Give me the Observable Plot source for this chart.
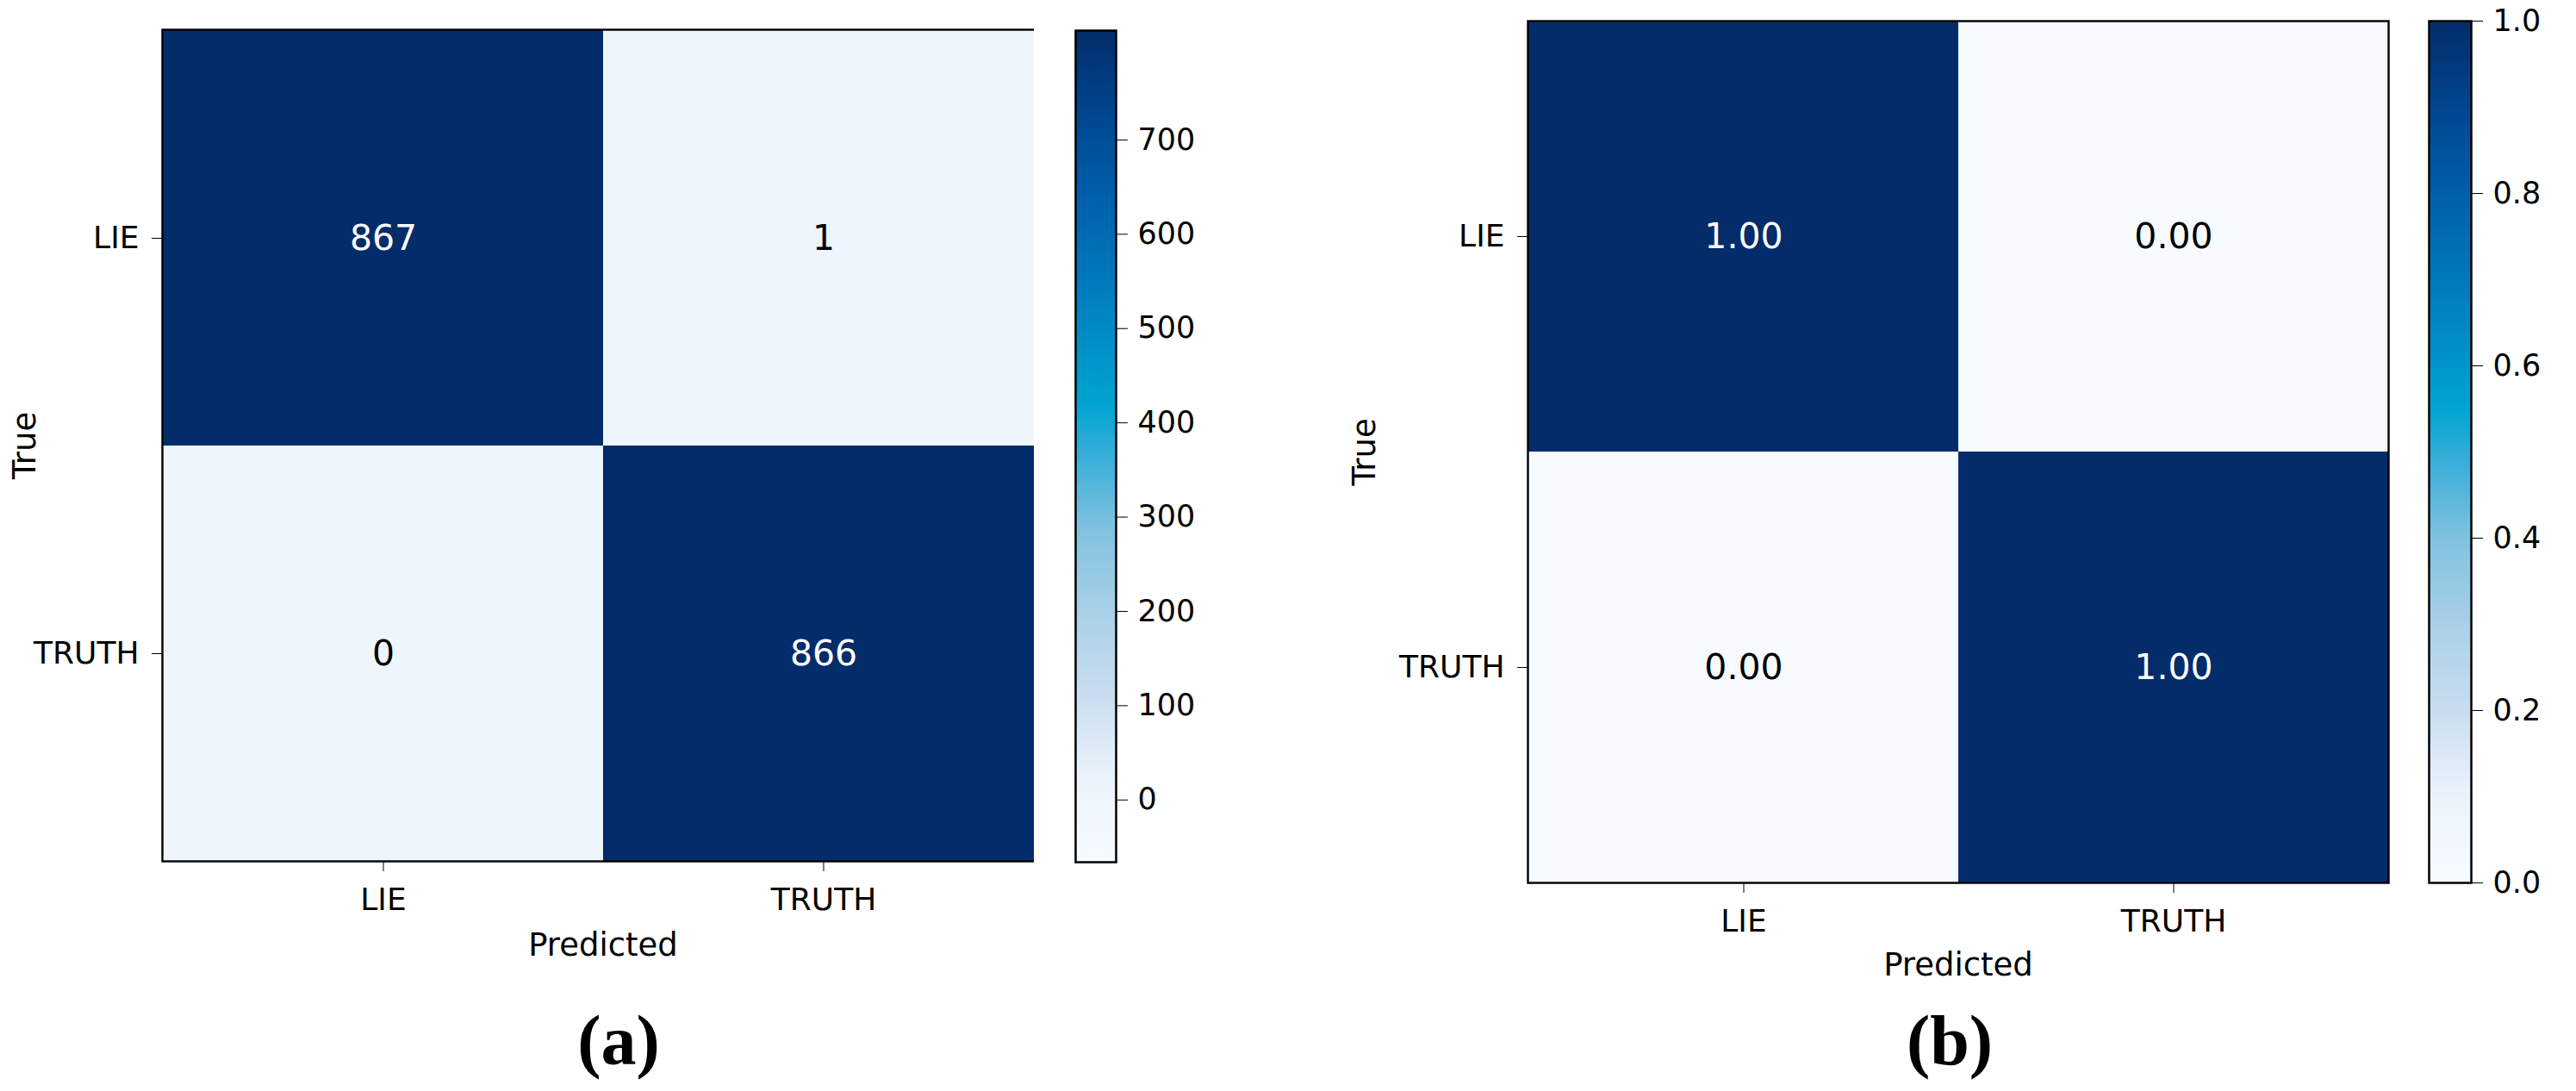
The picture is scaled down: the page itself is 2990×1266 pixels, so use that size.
<!DOCTYPE html>
<html>
<head>
<meta charset="utf-8">
<script src="https://cdn.jsdelivr.net/npm/d3@7"></script>
<script src="https://cdn.jsdelivr.net/npm/@observablehq/plot@0.6"></script>
<style>
  html, body { margin: 0; padding: 0; background: #ffffff; }
  #root { position: relative; width: 2990px; height: 1266px; background: #ffffff; overflow: hidden; }
  .panel { position: absolute; }
</style>
</head>
<body>
<div id="root"></div>
<script>
// ---------------- data ----------------
const classes = ["LIE", "TRUTH"];
const countsA = [[867, 1], [0, 866]];
const normB = [[1.00, 0.00], [0.00, 1.00]];
const ticksA = [0, 100, 200, 300, 400, 500, 600, 700];
const ticksB = [0.0, 0.2, 0.4, 0.6, 0.8, 1.0];
const barRangeA = [-66, 816];
const barRangeB = [0, 1];
const xLabel = "Predicted";
const yLabel = "True";
const panelTags = ["(a)", "(b)"];

// colormap stops (fraction of colorbar range -> colour)
const cmapT = [0, 0.1, 0.2, 0.3, 0.4, 0.48, 0.55, 0.62, 0.7, 0.8, 0.9, 1.0];
const cmapC = ["#f7fbff", "#ebf3fb", "#c9ddf0", "#a9d0e7", "#80c2e0", "#3fb0d9",
               "#00a4d3", "#0090c8", "#0079bc", "#005fab", "#00468f", "#032c6a"];

// ---------------- helpers ----------------
const root = document.getElementById("root");
const FONT = "DejaVu Sans";

function cellsOf(M) {
  return classes.flatMap((t, i) => classes.map((p, j) => ({truth: t, pred: p, v: M[i][j]})));
}
function colorOpts(range) {
  const [lo, hi] = range;
  return {type: "linear", domain: cmapT.map(t => lo + t * (hi - lo)), range: cmapC, clamp: true};
}
function place(el, left, top) {
  const d = document.createElement("div");
  d.className = "panel";
  d.style.left = left + "px";
  d.style.top = top + "px";
  d.appendChild(el);
  root.appendChild(d);
}

function heatmap({M, range, fmt, threshold, width, height, ml, mr, mt, mb, labelDy, trueDx, tagDy, tagDx, tag}) {
  return Plot.plot({
    width, height,
    marginLeft: ml, marginRight: mr, marginTop: mt, marginBottom: mb,
    style: {fontFamily: FONT, fontSize: "36px", color: "black", background: "white"},
    x: {domain: classes, padding: 0, tickSize: 12, tickPadding: 19, label: null},
    y: {domain: classes, padding: 0, tickSize: 12, tickPadding: 15, label: null},
    color: colorOpts(range),
    marks: [
      Plot.cell(cellsOf(M), {x: "pred", y: "truth", fill: "v", inset: 0}),
      Plot.text(cellsOf(M), {x: "pred", y: "truth", text: d => fmt(d.v),
        fill: d => d.v > threshold ? "white" : "black", fontSize: 41, fontFamily: FONT}),
      Plot.frame({stroke: "black", strokeWidth: 2.4}),
      Plot.text([xLabel], {frameAnchor: "bottom", dy: labelDy, lineAnchor: "middle", textAnchor: "middle",
        text: d => d, fontSize: 37, fontFamily: FONT, fill: "black"}),
      Plot.text([yLabel], {frameAnchor: "left", dx: trueDx, rotate: -90, lineAnchor: "middle", textAnchor: "middle",
        text: d => d, fontSize: 37, fontFamily: FONT, fill: "black"}),
      Plot.text([tag], {frameAnchor: "bottom", dx: tagDx, dy: tagDy, lineAnchor: "middle", textAnchor: "middle",
        text: d => d, fontSize: 82, fontFamily: "Liberation Serif", fontWeight: "bold", fill: "black"})
    ]
  });
}

function colorbar({range, ticks, fmt, width, height, ml, mr, mt, mb}) {
  const [lo, hi] = range;
  const n = 240;
  const dv = (hi - lo) / n;
  const steps = d3.range(n).map(i => lo + i * dv);
  return Plot.plot({
    width, height,
    marginLeft: ml, marginRight: mr, marginTop: mt, marginBottom: mb,
    style: {fontFamily: FONT, fontSize: "35px", color: "black", background: "white"},
    x: {domain: [0, 1], axis: null},
    y: {domain: [lo, hi], axis: "right", ticks: ticks, tickFormat: fmt, tickSize: 13, tickPadding: 12, label: null},
    color: colorOpts(range),
    marks: [
      Plot.rect(steps, {x1: 0, x2: 1, y1: d => d, y2: d => d + dv * 1.02, fill: d => d + dv / 2, shapeRendering: "crispEdges"}),
      Plot.frame({stroke: "black", strokeWidth: 2.5})
    ]
  });
}

// ---------------- panel (a) ----------------
place(heatmap({
  M: countsA, range: barRangeA, fmt: d3.format("d"), threshold: 433,
  width: 1240, height: 1266, ml: 188, mr: 29, mt: 34, mb: 267,
  labelDy: 98, trueDx: -159, tagDy: 209, tagDx: 18, tag: panelTags[0]
}), 0, 0);
place(colorbar({
  range: barRangeA, ticks: ticksA, fmt: d3.format("d"),
  width: 200, height: 1100, ml: 48, mr: 105, mt: 35, mb: 100
}), 1200, 0);

// ---------------- panel (b) ----------------
place(heatmap({
  M: normB, range: barRangeB, fmt: d3.format(".2f"), threshold: 0.5,
  width: 1300, height: 1266, ml: 273, mr: 28, mt: 24, mb: 242,
  labelDy: 96, trueDx: -189, tagDy: 184, tagDx: -10, tag: panelTags[1]
}), 1500, 0);
place(colorbar({
  range: barRangeB, ticks: ticksB, fmt: d3.format(".1f"),
  width: 210, height: 1150, ml: 39, mr: 122, mt: 24, mb: 126
}), 2780, 0);
</script>
</body>
</html>
